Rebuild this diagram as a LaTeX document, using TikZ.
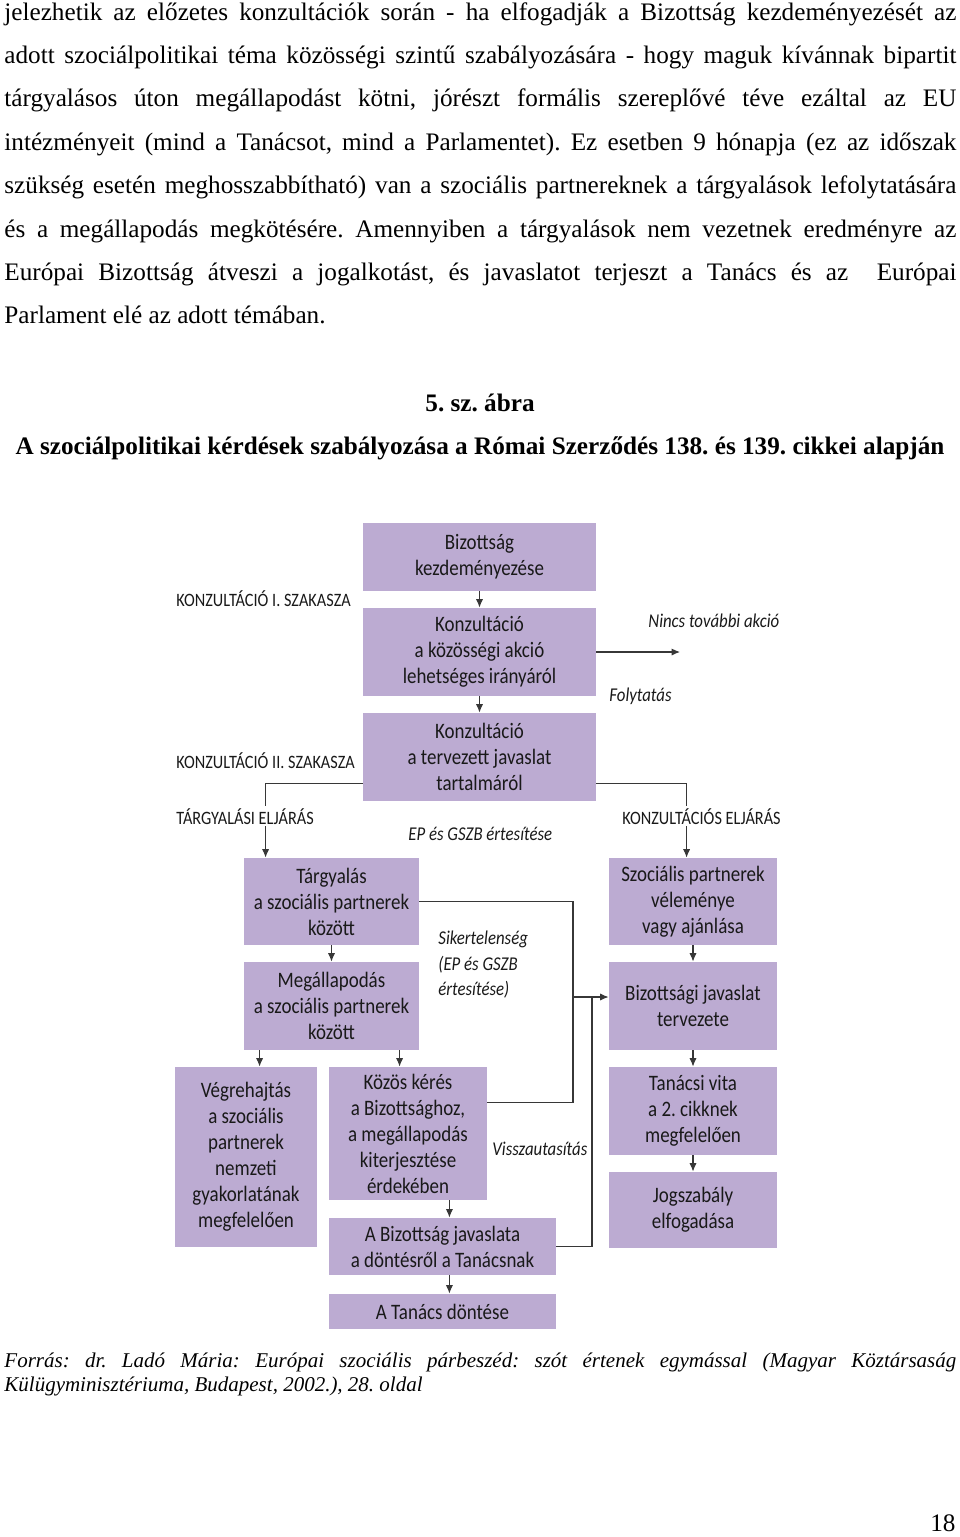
\documentclass[tikz,border=0pt]{standalone}
\usepackage{fontspec}
\setmainfont{Liberation Serif}
\newfontfamily\dgfont[FakeStretch=0.86]{Carlito}
\usetikzlibrary{arrows.meta,calc}
\newdimen\pxu \pxu=0.4762pt
\definecolor{stagefill}{RGB}{188,171,210}
\definecolor{linkgray}{RGB}{55,55,55}
\tikzset{
  stage/.style={fill=stagefill, align=center, inner sep=0pt, text=black!90,
    font=\dgfont\fontsize{10.5}{12.4}\selectfont},
  dims/.style 2 args={minimum width=#1*\pxu, minimum height=#2*\pxu},
  phase/.style={anchor=base west, inner sep=0pt, text=black!90,
    font=\dgfont\fontsize{9}{11}\selectfont},
  note/.style={anchor=base west, inner sep=0pt, align=left, text=black!90,
    font=\dgfont\itshape\fontsize{9.3}{12.1}\selectfont},
  link/.style={draw=linkgray, line width=0.5pt},
  arr/.style={link, -{Latex[length=4pt,width=3.4pt]}},
  bodyline/.style={anchor=base west, inner sep=0pt, font=\fontsize{12}{14}\selectfont},
}
\frenchspacing
\begin{document}
\begin{tikzpicture}[x=\pxu, y=-\pxu]
  \useasboundingbox (0,0) rectangle (960,1537);
  \node[bodyline] (t1) at (4,20) {\makebox[952\pxu][s]{jelezhetik az előzetes konzultációk során - ha elfogadják a Bizottság kezdeményezését az}};
  \node[bodyline] (t2) at (4,63.4) {\makebox[952\pxu][s]{adott szociálpolitikai téma közösségi szintű szabályozására - hogy maguk kívánnak bipartit}};
  \node[bodyline] (t3) at (4,106.8) {\makebox[952\pxu][s]{tárgyalásos úton megállapodást kötni, jórészt formális szereplővé téve ezáltal az EU}};
  \node[bodyline] (t4) at (4,150.2) {\makebox[952\pxu][s]{intézményeit (mind a Tanácsot, mind a Parlamentet). Ez esetben 9 hónapja (ez az időszak}};
  \node[bodyline] (t5) at (4,193.6) {\makebox[952\pxu][s]{szükség esetén meghosszabbítható) van a szociális partnereknek a tárgyalások lefolytatására}};
  \node[bodyline] (t6) at (4,237) {\makebox[952\pxu][s]{és a megállapodás megkötésére. Amennyiben a tárgyalások nem vezetnek eredményre az}};
  \node[bodyline] (t7) at (4,280.4) {\makebox[952\pxu][s]{Európai Bizottság átveszi a jogalkotást, és javaslatot terjeszt a Tanács és az \ Európai}};
  \node[bodyline] (t8) at (4,323.8) {Parlament elé az adott témában.};

  \node[bodyline, anchor=base] (cap1) at (480,411) {\bfseries 5. sz. ábra};
  \node[bodyline, anchor=base] (cap2) at (480,454) {\bfseries A szociálpolitikai kérdések szabályozása a Római Szerződés 138. és 139. cikkei alapján};

  \node[stage, dims={233}{68}] (b1) at (479.5,557) {Bizottság\\kezdeményezése};
  \node[stage, dims={233}{88}] (b2) at (479.5,652) {Konzultáció\\a közösségi akció\\lehetséges irányáról};
  \node[stage, dims={233}{88}] (b3) at (479.5,757) {Konzultáció\\a tervezett javaslat\\tartalmáról};
  \node[stage, dims={175}{87}] (b4) at (331.5,901.5) {Tárgyalás\\a szociális partnerek\\között};
  \node[stage, dims={175}{88}] (b5) at (331.5,1006) {Megállapodás\\a szociális partnerek\\között};
  \node[stage, dims={142}{180}] (b6) at (246,1157) {Végrehajtás\\a szociális\\partnerek\\nemzeti\\gyakorlatának\\megfelelően};
  \node[stage, dims={158}{133}] (b7) at (408,1133.5) {Közös kérés\\a Bizottsághoz,\\a megállapodás\\kiterjesztése\\érdekében};
  \node[stage, dims={227}{57}] (b8) at (442.5,1246.5) {A Bizottság javaslata\\a döntésről a Tanácsnak};
  \node[stage, dims={227}{35}] (b9) at (442.5,1311.5) {A Tanács döntése};
  \node[stage, dims={168}{87}] (b10) at (693,901.5) {Szociális partnerek\\véleménye\\vagy ajánlása};
  \node[stage, dims={168}{88}] (b11) at (693,1006) {Bizottsági javaslat\\tervezete};
  \node[stage, dims={168}{88}] (b12) at (693,1111) {Tanácsi vita\\a 2. cikknek\\megfelelően};
  \node[stage, dims={168}{76}] (b13) at (693,1210) {Jogszabály\\elfogadása};

  \coordinate (none) at (680,652);
  \coordinate (fail) at (573,997);
  \coordinate (back) at (592,997);
  \coordinate (s6) at ($(b5.south west)+(16,0)$);
  \coordinate (s7) at ($(b5.south west)+(156,0)$);
  \coordinate (s8) at ($(b7.south east)+(-38,0)$);

  \begin{scope}[arr]
    \draw (b1) -- (b2);
    \draw (b2) -- (b3);
    \draw (b2.east) -- (none);
    \draw ($(b3.south west)+(0,-18)$) -| ($(b4.north west)+(22,0)$);
    \draw ($(b3.south east)+(0,-18)$) -| ($(b10.north west)+(78,0)$);
    \draw (b4) -- (b5);
    \draw (s6) -- (s6 |- b6.north);
    \draw (s7) -- (s7 |- b7.north);
    \draw (s8) -- (s8 |- b8.north);
    \draw (s8 |- b8.south) -- (s8 |- b9.north);
    \draw (b10) -- (b11);
    \draw (b11) -- (b12);
    \draw (b12) -- (b13);
    \draw (fail) -- (fail -| b11.west);
  \end{scope}
  \begin{scope}[link]
    \draw (b4.east) -| (fail);
    \draw ($(b7.east)+(0,-31)$) -| (fail);
    \draw (b8.east) -| (back);
  \end{scope}

  \node[phase] (ph1) at (176,606) {KONZULTÁCIÓ I. SZAKASZA};
  \node[phase] (ph2) at (176,768) {KONZULTÁCIÓ II. SZAKASZA};
  \node[phase, fill=white, inner ysep=1pt] (ph3) at (176,824) {TÁRGYALÁSI ELJÁRÁS};
  \node[phase, fill=white, inner ysep=1pt] (ph4) at (622,824) {KONZULTÁCIÓS ELJÁRÁS};
  \node[note] (n1) at (648,627) {Nincs további akció};
  \node[note] (n2) at (609,701) {Folytatás};
  \node[note] (n3) at (408,840) {EP és GSZB értesítése};
  \node[note, anchor=north west] (n4) at (438,931) {Sikertelenség\\(EP és GSZB\\értesítése)};
  \node[note] (n5) at (492,1155) {Visszautasítás};

  \node[bodyline, font=\itshape\fontsize{10}{11.4}\selectfont] (src1) at (4,1367) {\makebox[952\pxu][s]{Forrás: dr. Ladó Mária: Európai szociális párbeszéd: szót értenek egymással (Magyar Köztársaság}};
  \node[bodyline, font=\itshape\fontsize{10}{11.4}\selectfont] (src2) at (4,1391) {Külügyminisztériuma, Budapest, 2002.), 28. oldal};
  \node[bodyline, anchor=base east] (pg) at (956,1531) {18};
\end{tikzpicture}
\end{document}
